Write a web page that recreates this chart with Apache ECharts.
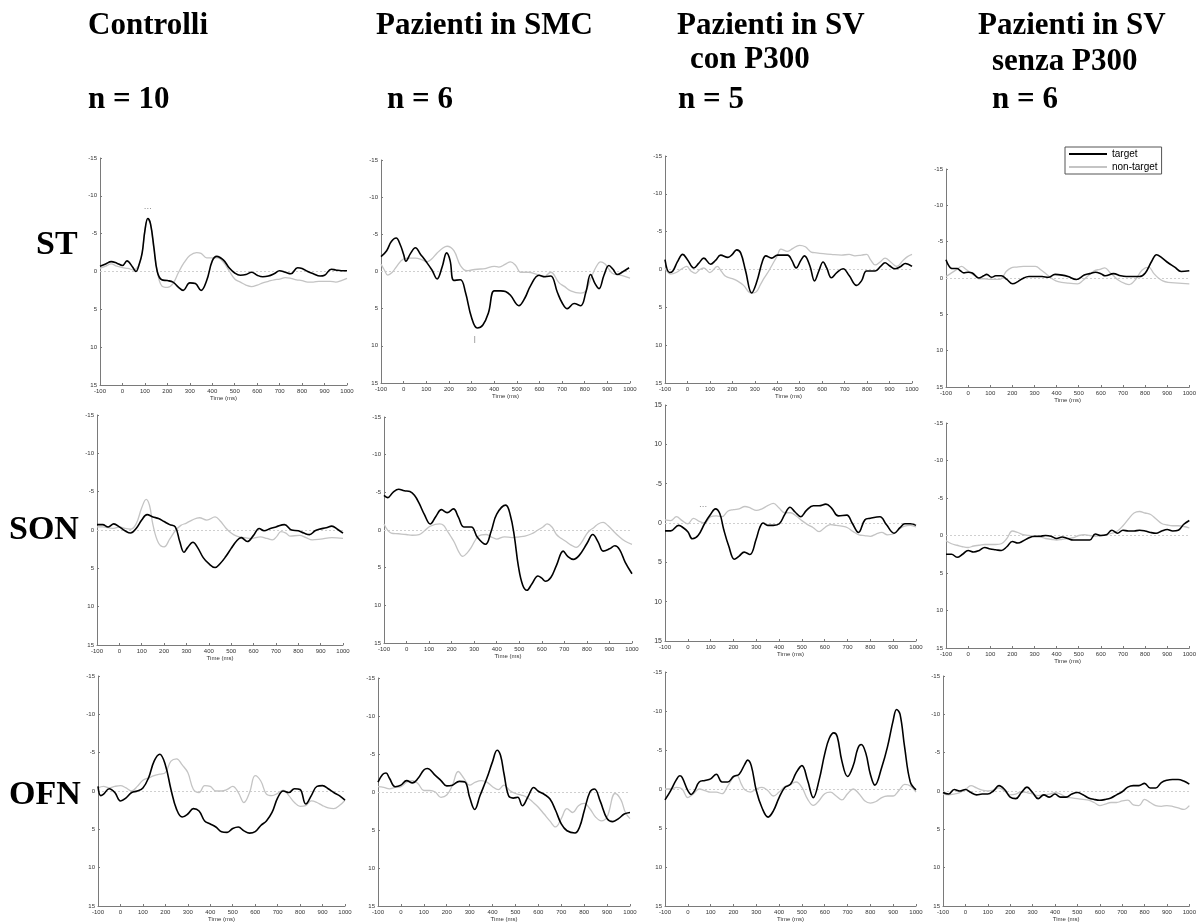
<!DOCTYPE html>
<html>
<head>
<meta charset="utf-8">
<script src="https://cdn.jsdelivr.net/npm/echarts@6/dist/echarts.min.js"></script>
<style>
html,body{margin:0;padding:0;background:#fff;}
#chart{width:1199px;height:923px;}
</style>
</head>
<body>
<div id="chart"></div>
<script>
// ---- Column / row labels ----
const columnTitles = ['Controlli', 'Pazienti in SMC', 'Pazienti in SV', 'Pazienti in SV'];
const columnSubtitles = ['', '', 'con P300', 'senza P300'];
const columnN = ['n = 10', 'n = 6', 'n = 5', 'n = 6'];
const rowLabels = ['ST', 'SON', 'OFN'];
const seriesNames = ['target', 'non-target'];
const xTicks = [-100, 1000, 100];   // min, max, step (ms)
const yTicks = [-15, 15, 5];        // min, max, step (µV, negative up)

// ---- Data: [time (ms), amplitude (µV)] ----
// Row ST
const ctrlST_tg = [[-100,-0.7],[-75,-1.0],[-50,-1.3],[-25,-1.1],[0,-0.8],[20,-1.4],[45,-0.6],[60,0],[75,-1.0],[88,-2.5],[100,-5.4],[113,-7.0],[125,-6.3],[140,-3.2],[155,0],[175,1.1],[200,1.2],[225,1.4],[250,2.1],[270,2.5],[300,1.5],[325,1.6],[350,2.5],[375,1.2],[400,-1.4],[420,-2.0],[450,-1.5],[475,-0.5],[500,0.2],[525,0.5],[550,0.4],[575,0.1],[600,0.5],[625,0.7],[650,0.6],[675,0.3],[700,-0.1],[725,0.1],[750,0.3],[780,-0.5],[800,-0.4],[825,0],[850,0.3],[880,0.6],[900,0.5],[930,-0.3],[950,-0.2],[975,-0.1],[1000,-0.1]];
const ctrlST_nt = [[-100,-0.4],[-75,-0.7],[-50,-1.0],[-25,-0.7],[0,-0.5],[25,-0.4],[50,-0.2],[75,-1.0],[88,-2.5],[100,-5.4],[113,-7.0],[125,-6.2],[140,-3.0],[155,0],[175,1.9],[200,2.1],[225,1.6],[250,0.1],[275,-1.2],[300,-2.1],[330,-2.5],[350,-2.4],[375,-1.8],[400,-1.8],[425,-1.8],[450,-1.2],[475,-0.1],[500,1.0],[525,1.4],[550,1.8],[575,2.0],[600,1.8],[625,1.5],[650,1.3],[675,1.1],[700,1.0],[725,0.8],[750,0.9],[775,1.1],[800,1.2],[825,1.4],[850,1.4],[875,1.3],[900,1.3],[925,1.3],[950,1.4],[975,1.2],[1000,0.9]];
const smcST_tg = [[-100,-2.0],[-75,-2.8],[-55,-4.0],[-33,-4.5],[-15,-3.6],[0,-2.3],[10,-1.4],[30,-2.4],[52,-3.2],[75,-2.3],[100,-1.3],[125,-0.2],[148,1.0],[170,-0.6],[190,-2.5],[205,-1.5],[222,1.2],[251,1.1],[273,2.8],[300,6.2],[325,7.6],[350,7.2],[375,5.5],[400,2.6],[429,2.6],[450,2.7],[472,3.2],[509,4.6],[535,3.6],[561,1.9],[598,0.5],[625,0.7],[650,0.6],[679,2.8],[700,4.2],[723,5.0],[753,4.3],[782,4.6],[805,2.8],[826,0.4],[845,1.6],[863,2.3],[885,0.5],[907,-0.8],[925,-0.3],[944,0.4],[970,0],[996,-0.5]];
const smcST_nt = [[-100,-1.0],[-85,-0.2],[-70,0.5],[-50,0.1],[-35,-0.5],[0,-1.7],[25,-1.8],[52,-1.8],[80,-1.6],[103,-1.3],[125,-1.7],[148,-2.5],[175,-3.2],[192,-3.4],[222,-2.8],[251,-0.8],[280,-0.1],[300,-0.2],[325,-0.3],[360,-0.4],[400,-0.7],[421,-0.6],[450,-1.0],[472,-1.3],[495,-0.8],[517,0.1],[550,0.1],[590,0.4],[619,0.7],[650,0.1],[686,1.5],[710,2.0],[738,2.6],[782,2.9],[805,2.6],[826,1.0],[850,-0.6],[870,-1.3],[890,-1.0],[907,-0.3],[925,0.3],[944,0.4],[970,0.6],[1000,0.9]];
const svcST_tg = [[-100,-1.3],[-80,0.4],[-65,0.2],[-45,-1.0],[-21,-2.0],[0,-1.3],[28,-0.2],[50,-0.8],[73,-1.5],[103,-0.7],[125,-1.2],[148,-1.9],[180,-1.6],[200,-2.0],[219,-2.6],[237,-2.2],[259,0.2],[286,3.1],[309,1.6],[334,-1.1],[349,-1.8],[375,-1.5],[401,-1.9],[446,-1.9],[465,-1.2],[484,-0.2],[505,-1.2],[521,-1.8],[545,-0.5],[566,1.5],[585,0.2],[604,-1.0],[620,-0.2],[641,1.1],[665,0.4],[693,-0.1],[720,0.8],[753,2.1],[775,1.5],[798,0.2],[836,0.2],[860,-0.4],[880,-0.9],[900,-0.5],[925,-0.1],[950,-0.4],[970,-0.8],[1000,-0.4]];
const svcST_nt = [[-100,-0.2],[-75,0.6],[-50,0.4],[-25,-0.1],[-3,-0.4],[15,0.2],[35,0.5],[55,0],[73,-0.2],[100,0.4],[133,-0.4],[150,0.2],[170,0.9],[200,1.2],[222,1.5],[250,2.1],[282,3.1],[304,3.0],[325,2.0],[342,1.1],[360,0.3],[379,-0.7],[400,-1.8],[416,-2.7],[446,-2.4],[470,-2.8],[499,-3.2],[525,-3.0],[551,-2.3],[575,-2.2],[604,-2.1],[640,-2.0],[686,-1.9],[720,-2.0],[746,-1.8],[775,-1.9],[798,-2.0],[815,-1.3],[836,-0.6],[858,-1.0],[880,-1.5],[905,-1.0],[932,-0.4],[960,-1.2],[980,-1.7],[1000,-2.0]];
const svsST_tg = [[-100,-2.5],[-80,-1.4],[-65,-1.3],[-50,-1.3],[-35,-1.0],[-19,-0.7],[0,-0.8],[19,-0.7],[48,0],[70,-0.3],[84,-0.5],[106,-0.1],[125,-0.3],[150,-0.3],[175,0.2],[201,0.8],[225,0.5],[245,0.1],[275,-0.2],[300,-0.2],[334,-0.2],[363,-0.1],[393,-0.5],[425,-0.4],[452,-0.2],[489,0.2],[525,-0.4],[550,-0.6],[576,-0.8],[600,-0.6],[620,-0.3],[657,-0.6],[690,-0.3],[715,-0.2],[750,-0.2],[774,-0.2],[801,-0.7],[830,-2.3],[852,-3.2],[875,-2.8],[904,-2.1],[934,-1.5],[963,-0.9],[1000,-1.0]];
const svsST_nt = [[-100,-0.2],[-75,-0.7],[-50,-1.2],[-30,-1.6],[-10,-1.2],[12,-0.7],[30,-0.3],[48,0.1],[75,0.1],[99,0.2],[143,0.2],[160,-0.3],[172,-0.9],[195,-1.4],[216,-1.5],[250,-1.6],[304,-1.6],[330,-1.1],[363,-0.3],[385,0.2],[407,0.5],[450,0.7],[495,0.8],[520,0.3],[546,-0.4],[570,-1.0],[596,-1.2],[618,-1.4],[640,-0.8],[654,-0.4],[680,0.3],[713,0.8],[728,0.9],[757,0.2],[787,-1.1],[816,-1.5],[840,-0.6],[860,0],[880,0.4],[904,0.6],[950,0.7],[1000,0.8]];
// Row SON
const ctrlSON_tg = [[-100,-0.7],[-75,-0.7],[-50,-0.4],[-25,-0.8],[0,-0.4],[25,0.1],[50,0.4],[75,-0.2],[100,-1.3],[124,-2.0],[150,-1.7],[175,-1.5],[200,-1.1],[225,-0.7],[250,-0.4],[270,1.5],[289,2.9],[305,2.3],[329,1.6],[350,2.3],[375,3.6],[400,4.4],[428,4.9],[450,4.4],[475,3.5],[500,2.4],[525,1.4],[545,1.0],[572,1.5],[600,0.7],[625,-0.2],[647,0.1],[675,-0.2],[700,-0.4],[738,-0.7],[770,0],[800,0.1],[825,0.4],[850,0.6],[875,0.1],[893,-0.1],[925,-0.3],[950,-0.5],[975,-0.1],[1000,0.4]];
const ctrlSON_nt = [[-100,-0.4],[-75,-0.4],[-50,-0.3],[-25,-0.2],[0,-0.4],[25,-0.2],[50,-0.1],[75,-0.8],[100,-2.9],[120,-4.0],[135,-3.2],[150,-0.7],[175,1.7],[200,2.2],[225,1.2],[250,0.1],[275,-0.6],[300,-0.9],[325,-1.3],[358,-1.6],[391,-1.3],[428,-1.7],[450,-1.2],[475,-0.3],[500,0.4],[525,0.8],[560,1.0],[591,1.1],[630,0.9],[660,1.1],[684,1.3],[705,0.8],[722,0.2],[745,0.4],[763,0.8],[805,0.7],[835,1.0],[862,1.3],[900,1.2],[950,1.0],[1000,1.1]];
const smcSON_tg = [[-100,-4.6],[-84,-4.3],[-60,-5.0],[-35,-5.4],[-10,-5.2],[15,-5.1],[35,-4.6],[55,-3.6],[80,-2.0],[105,-0.8],[130,-1.8],[155,-2.7],[180,-2.3],[208,-2.8],[230,-1.7],[254,-0.4],[287,-0.4],[315,1.0],[350,1.9],[375,0.2],[400,-2.1],[440,-3.3],[460,-2.0],[478,0.8],[496,4.8],[515,7.3],[534,8.0],[555,7.2],[583,6.1],[600,6.4],[616,6.8],[640,6.3],[665,4.7],[695,2.8],[715,3.5],[740,3.9],[765,3.4],[800,1.8],[826,0.6],[850,1.6],[872,2.8],[900,2.5],[924,2.1],[945,2.6],[970,4.3],[1000,5.8]];
const smcSON_nt = [[-100,-0.8],[-68,0.4],[-35,0.5],[-2,0.6],[25,0.7],[56,0.6],[80,0.1],[105,-0.5],[147,-0.8],[165,-0.6],[180,0.1],[195,0.8],[213,1.7],[230,2.8],[249,3.5],[270,3.0],[287,2.3],[320,0.8],[353,0.6],[375,0.9],[400,1.2],[434,0.9],[468,1.0],[500,0.9],[525,0.8],[555,0.5],[583,0],[605,-0.4],[624,-0.8],[645,-0.4],[665,0.6],[685,1.1],[706,1.5],[730,2.0],[752,2.3],[775,1.7],[797,0.6],[815,0],[830,-0.3],[850,-0.8],[872,-1.0],[893,-0.6],[913,0],[940,0.8],[970,1.5],[1000,1.9]];
const svcSON_tg = [[-100,1.0],[-75,1.0],[-40,0.3],[-20,0.6],[0,1.1],[20,2.0],[45,1.6],[75,0],[100,-1.1],[121,-1.8],[140,-1.2],[157,0.8],[180,3.0],[204,4.6],[225,4.2],[247,3.7],[272,4.0],[299,2.1],[315,0.6],[330,0],[350,0.3],[375,0.3],[401,0.1],[425,-1.1],[448,-2.0],[470,-1.4],[495,-0.8],[520,-1.6],[550,-2.2],[575,-2.2],[605,-2.4],[630,-1.9],[660,-0.9],[697,-1.0],[720,0],[748,1.2],[776,-0.4],[800,-0.6],[842,-0.8],[870,0.2],[904,1.3],[930,0.6],[951,0.1],[975,0.1],[1000,0.3]];
const svcSON_nt = [[-100,-0.4],[-75,-0.3],[-50,-0.8],[-25,-0.3],[0,0.1],[25,-0.6],[50,-0.2],[75,0],[100,-0.8],[125,-0.9],[150,-0.8],[175,-1.5],[200,-1.7],[225,-1.8],[250,-2.1],[275,-1.9],[300,-1.6],[325,-1.8],[350,-2.2],[375,-2.5],[400,-1.9],[425,-1.3],[450,-1.3],[475,-0.9],[500,-0.3],[525,0.2],[550,0.6],[575,1.1],[600,0.6],[625,0.2],[650,0.3],[675,0.4],[700,0.6],[725,1.1],[750,1.5],[775,1.6],[800,1.7],[825,1.4],[850,1.2],[875,1.5],[900,1.4],[925,0.8],[950,0.4],[975,0.3],[1000,0.5]];
const svsSON_tg = [[-100,2.5],[-75,2.5],[-50,2.9],[-25,2.5],[0,2.0],[25,2.2],[50,2.0],[75,1.6],[100,1.8],[125,1.9],[150,2.0],[175,1.5],[200,0.8],[225,1.0],[250,0.7],[275,0.3],[300,0.1],[325,0.1],[350,0],[375,0.1],[400,0.4],[425,0.2],[450,0.4],[475,0.6],[500,0.6],[525,0.6],[550,0.6],[575,-0.2],[600,0],[625,-0.1],[650,-0.7],[675,-0.3],[700,-0.7],[725,-0.6],[750,-0.6],[775,-0.7],[800,-0.6],[825,-0.4],[850,-0.3],[875,-0.6],[900,-0.8],[925,-0.6],[950,-0.7],[975,-1.5],[1000,-2.0]];
const svsSON_nt = [[-100,0.7],[-75,1.1],[-50,1.3],[-25,1.5],[0,1.6],[25,1.4],[50,1.3],[75,1.2],[100,1.2],[125,1.2],[150,1.1],[175,0.4],[200,-0.6],[225,-0.4],[250,-0.1],[275,0],[300,0.2],[325,0.2],[350,0.4],[375,0.5],[400,0.6],[425,0.5],[450,0.4],[475,0.3],[500,0],[525,-0.1],[550,0],[575,0.1],[600,0],[625,-0.1],[650,-0.3],[675,-0.6],[700,-1.3],[725,-2.2],[750,-3.0],[775,-3.2],[800,-3.0],[825,-2.8],[850,-2.2],[875,-1.6],[900,-1.4],[925,-1.3],[950,-1.3],[975,-1.2],[1000,-1.0]];
// Row OFN
const ctrlOFN_tg = [[-100,-0.6],[-88,0.6],[-75,0.4],[-50,-0.3],[-25,0.2],[0,1.3],[25,0.9],[50,0.2],[75,0],[100,-0.4],[125,-1.7],[150,-3.9],[175,-4.8],[200,-3.4],[225,-0.2],[250,2.4],[275,3.4],[300,3.0],[325,2.3],[350,2.6],[375,3.9],[400,4.3],[425,4.7],[450,5.3],[475,5.4],[500,4.9],[525,4.7],[550,5.2],[575,5.5],[600,5.3],[625,4.5],[650,3.9],[675,2.8],[700,0.9],[725,0],[750,0.2],[775,-0.3],[800,-0.2],[825,1.7],[850,0.6],[875,-0.6],[900,-0.7],[925,-0.3],[950,0.2],[975,0.6],[1000,1.2]];
const ctrlOFN_nt = [[-100,-0.4],[-75,-0.6],[-50,-0.4],[-25,-0.6],[0,-0.7],[25,-0.4],[50,0],[75,-0.6],[100,-1.4],[125,-1.7],[150,-2.0],[175,-2.2],[200,-2.4],[225,-3.9],[250,-4.2],[275,-3.4],[300,-2.4],[325,-0.2],[350,0.2],[375,-0.7],[400,-0.6],[425,0],[450,0],[475,-0.2],[500,-0.6],[525,0.2],[550,1.5],[575,0.2],[600,-2.0],[625,-1.3],[650,0.4],[675,0.6],[700,0.3],[725,-0.1],[750,0.6],[775,1.5],[800,2.0],[825,1.9],[850,1.3],[875,1.5],[900,1.9],[925,2.2],[950,2.3],[975,1.9],[1000,1.2]];
const smcOFN_tg = [[-100,-1.3],[-80,-2.3],[-65,-2.5],[-50,-1.8],[-25,-0.7],[0,-0.9],[25,-1.5],[50,-1.2],[75,-1.8],[100,-2.9],[115,-3.1],[150,-2.2],[175,-1.5],[200,-0.8],[225,-0.9],[255,-1.4],[280,-1.3],[300,0.7],[322,2.3],[345,0.5],[375,-1.8],[400,-4.0],[420,-5.5],[435,-4.8],[450,-2.4],[470,0.5],[490,0.8],[510,0.7],[530,1.8],[555,0.6],[580,-0.6],[600,-0.1],[625,0.3],[650,0.9],[675,2.4],[700,4.2],[725,5.1],[760,5.4],[780,4.6],[800,2.5],[825,0],[845,-0.4],[870,1.2],[900,3.5],[925,3.9],[950,3.5],[975,2.9],[1000,2.7]];
const smcOFN_nt = [[-100,-0.7],[-75,-0.6],[-50,-0.4],[-25,-0.6],[0,-0.7],[25,-1.3],[50,-1.5],[75,-1.1],[100,-0.2],[125,-0.2],[150,0],[175,0.7],[200,0.4],[225,-0.9],[250,-2.7],[275,-1.8],[300,-0.9],[325,-1.3],[350,-1.5],[375,-1.3],[400,-0.7],[425,-0.3],[450,-0.9],[475,-0.2],[500,0.2],[525,0.4],[550,0.7],[575,1.3],[600,2.0],[625,2.9],[650,3.8],[675,4.6],[700,3.5],[725,2.2],[750,2.7],[775,1.8],[800,1.5],[825,2.2],[850,3.3],[875,3.8],[900,3.3],[935,0.2],[960,1.0],[980,2.7],[1000,3.5]];
const svcOFN_tg = [[-100,1.4],[-75,0.2],[-50,-1.2],[-35,-1.7],[-25,-1.5],[0,0.2],[15,0.7],[30,0.2],[50,-0.9],[75,-1.1],[100,-1.3],[125,-1.9],[150,-0.9],[175,-0.9],[200,-1.6],[225,-1.9],[250,-3.2],[262,-3.7],[278,-3.0],[300,0.2],[325,2.4],[352,3.6],[375,2.8],[400,1.1],[425,-0.2],[450,-0.6],[475,-2.1],[500,-3.0],[525,-1.1],[550,1.1],[575,-1.1],[600,-4.5],[620,-6.5],[640,-7.2],[655,-6.7],[675,-3.6],[700,-1.6],[725,-3.0],[745,-5.2],[760,-5.7],[780,-4.6],[800,-1.9],[820,-0.5],[850,-2.8],[875,-5.4],[900,-8.8],[915,-10.2],[930,-9.6],[950,-5.4],[975,-0.9],[1000,0.1]];
const svcOFN_nt = [[-100,0],[-75,0],[-50,-0.2],[-25,0],[0,1.1],[25,0.6],[50,0],[75,0.2],[100,0.4],[125,0.4],[150,0.6],[175,-0.4],[200,-1.5],[215,-1.7],[235,-0.6],[250,0.1],[275,0.4],[300,0],[325,-0.2],[350,0.2],[375,0.9],[400,0.4],[425,-0.3],[450,-0.6],[475,-0.9],[500,-0.2],[525,1.3],[550,2.1],[575,1.5],[600,0.6],[625,0.4],[650,0.9],[675,1.4],[700,0.6],[725,0],[750,0.6],[775,1.5],[800,1.8],[825,1.6],[850,1.1],[875,0.9],[900,0.9],[925,0.2],[950,-0.6],[975,-0.4],[1000,0.4]];
const svsOFN_tg = [[-100,0.2],[-75,0.4],[-50,-0.2],[-25,0],[0,-0.2],[25,0.2],[50,0.5],[75,0.4],[100,0.4],[125,0],[150,-0.7],[175,-0.2],[200,0.8],[225,1.0],[250,0.2],[275,-0.5],[300,0.2],[325,1.0],[350,0.5],[375,0.8],[400,0.4],[425,0.8],[450,0.8],[475,0.4],[500,0.2],[525,0.5],[550,0.9],[575,1.1],[600,1.2],[625,1.1],[650,0.9],[675,0.5],[700,0.1],[725,-0.5],[750,-0.7],[775,-0.7],[800,-1.0],[825,-0.4],[850,-0.4],[875,-1.1],[900,-1.4],[925,-1.5],[950,-1.5],[975,-1.3],[1000,-0.9]];
const svsOFN_nt = [[-100,0.4],[-75,0.5],[-50,0.4],[-25,0.2],[0,-0.2],[25,-0.7],[50,-0.4],[75,-0.1],[100,0],[125,-0.1],[150,-0.4],[175,0],[200,0.5],[225,0.4],[250,0.1],[275,0.2],[300,0.4],[325,0.6],[350,0.5],[375,0.4],[400,0.2],[425,0.4],[450,0.8],[475,0.9],[500,1.0],[525,1.1],[550,1.2],[575,1.5],[600,1.9],[625,1.7],[650,1.5],[675,1.5],[700,1.3],[725,1.2],[750,1.8],[775,1.9],[800,1.1],[825,1.5],[850,1.9],[875,2.0],[900,1.9],[925,2.0],[950,2.2],[975,2.4],[1000,1.9]];

// Small significance marks seen in the panels: [panelIndex, time, amplitude, text]
const marks = [[0, 113, -8.3, '\u00b7\u00b7\u00b7'], [1, 314, 9.1, '|'], [6, 67, -2.0, '\u00b7\u00b7\u00b7']];

// ---- Layout (plot rectangles: left, top, right, bottom) ----
const panels = [
  {rect:[100,158,347,385], tg:ctrlST_tg, nt:ctrlST_nt},
  {rect:[381,160,630,383], tg:smcST_tg, nt:smcST_nt},
  {rect:[665,156,912,383], tg:svcST_tg, nt:svcST_nt},
  {rect:[946,169,1197,387], tg:svsST_tg, nt:svsST_nt},
  {rect:[97,415,343,645], tg:ctrlSON_tg, nt:ctrlSON_nt},
  {rect:[384,417,632,643], tg:smcSON_tg, nt:smcSON_nt},
  {rect:[665,405,916,641], tg:svcSON_tg, nt:svcSON_nt, absLabels:true},
  {rect:[946,423,1192,648], tg:svsSON_tg, nt:svsSON_nt},
  {rect:[98,676,345,910], tg:ctrlOFN_tg, nt:ctrlOFN_nt},
  {rect:[378,678,630,910], tg:smcOFN_tg, nt:smcOFN_nt},
  {rect:[665,672,916,908], tg:svcOFN_tg, nt:svcOFN_nt},
  {rect:[943,676,1195,910], tg:svsOFN_tg, nt:svsOFN_nt}
];

const chart = echarts.init(document.getElementById('chart'), null, {renderer:'canvas'});
const grids = [], xAxes = [], yAxes = [], series = [];
const axisColor = '#7a7a7a';
const labelStyle = {fontSize:6, color:'#333', fontFamily:'Liberation Sans'};
const plain = v => String(v);

panels.forEach((p, i) => {
  const [l, t, r, b] = p.rect;
  grids.push({left:l, top:t, width:r-l, height:b-t, containLabel:false});
  xAxes.push({
    gridIndex:i, type:'value', min:xTicks[0], max:xTicks[1], interval:xTicks[2],
    name:'Time (ms)', nameLocation:'middle', nameGap:10,
    nameTextStyle:{fontSize:6, color:'#333', fontFamily:'Liberation Sans'},
    axisLine:{show:true, onZero:false, lineStyle:{color:axisColor, width:1}},
    axisTick:{show:true, inside:true, length:2, lineStyle:{color:axisColor}},
    axisLabel:Object.assign({margin:3, formatter:plain}, labelStyle),
    splitLine:{show:false}
  });
  yAxes.push({
    gridIndex:i, type:'value', min:yTicks[0], max:yTicks[1], interval:yTicks[2], inverse:true,
    axisLine:{show:true, onZero:false, lineStyle:{color:axisColor, width:1}},
    axisTick:{show:true, inside:true, length:2, lineStyle:{color:axisColor}},
    axisLabel:Object.assign({margin:3,
      formatter: p.absLabels ? (v => (v === 0 || v === -5) ? String(v) : String(Math.abs(v))) : plain
    }, p.absLabels ? {fontSize:7, color:'#333', fontFamily:'Liberation Sans'} : labelStyle),
    splitLine:{show:false}
  });
  series.push({
    name:seriesNames[1], type:'line', xAxisIndex:i, yAxisIndex:i, data:p.nt,
    smooth:0.4, symbol:'none', color:'#c4c4c4',
    lineStyle:{color:'#c4c4c4', width:1.3}, z:2, silent:true,
    markLine:{silent:true, symbol:'none', label:{show:false},
      lineStyle:{type:[2,2], color:'#cfcfcf', width:1}, data:[{yAxis:0}], z:1}
  });
  series.push({
    name:seriesNames[0], type:'line', xAxisIndex:i, yAxisIndex:i, data:p.tg,
    smooth:0.4, symbol:'none', color:'#000',
    lineStyle:{color:'#000', width:1.6}, z:3, silent:true
  });
});

marks.forEach(m => {
  series.push({
    type:'scatter', xAxisIndex:m[0], yAxisIndex:m[0], data:[[m[1], m[2]]],
    symbolSize:0, silent:true,
    label:{show:true, position:'inside', formatter:m[3], fontSize:8, color:'#555', fontFamily:'Liberation Sans'}
  });
});

const serif = 'Liberation Serif';
const titles = [];
const titleLeft = [88, 376, 677, 978];
const subLeft = [0, 0, 690, 992];
const subTop = [0, 0, 44, 46];
const nLeft = [88, 387, 678, 992];
columnTitles.forEach((txt, i) => {
  titles.push({text:txt, left:titleLeft[i], top:10, padding:0,
    textStyle:{fontFamily:serif, fontWeight:'bold', fontSize:31, color:'#000'}});
  if (columnSubtitles[i]) titles.push({text:columnSubtitles[i], left:subLeft[i], top:subTop[i], padding:0,
    textStyle:{fontFamily:serif, fontWeight:'bold', fontSize:31, color:'#000'}});
  titles.push({text:columnN[i], left:nLeft[i], top:84, padding:0,
    textStyle:{fontFamily:serif, fontWeight:'bold', fontSize:31, color:'#000'}});
});
const rowLeft = [36, 9, 9];
const rowTop = [228, 513, 778];
rowLabels.forEach((txt, i) => {
  titles.push({text:txt, left:rowLeft[i], top:rowTop[i], padding:0,
    textStyle:{fontFamily:serif, fontWeight:'bold', fontSize:34, color:'#000'}});
});

chart.setOption({
  animation:false,
  backgroundColor:'#fff',
  title:titles,
  legend:{
    data:[
      {name:seriesNames[0], icon:'rect', itemStyle:{color:'#000'}},
      {name:seriesNames[1], icon:'rect', itemStyle:{color:'#c4c4c4'}}
    ],
    orient:'vertical', left:1065, top:147,
    itemWidth:38, itemHeight:2, itemGap:3, padding:[2,4,2,4],
    borderColor:'#555', borderWidth:1, selectedMode:false,
    textStyle:{fontSize:10, color:'#000', fontFamily:'Liberation Sans'}
  },
  grid:grids, xAxis:xAxes, yAxis:yAxes, series:series
});
</script>
</body>
</html>
